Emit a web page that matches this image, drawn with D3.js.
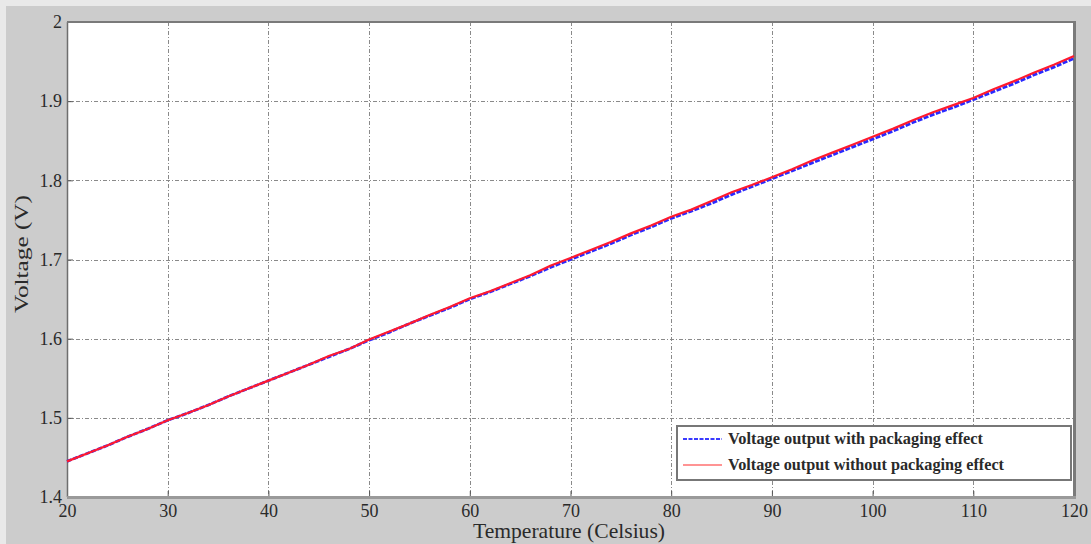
<!DOCTYPE html>
<html>
<head>
<meta charset="utf-8">
<script src="https://cdn.jsdelivr.net/npm/d3@7/dist/d3.min.js"></script>
<style>
  html, body { margin: 0; padding: 0; background: #e9e9e9; }
  svg { display: block; }
</style>
</head>
<body>
<svg id="chart" width="1091" height="544"></svg>
<script>
// Temperature sweep (Celsius)
const temperature = [20,22,24,26,28,30,32,34,36,38,40,42,44,46,48,50,52,54,56,58,60,
  62,64,66,68,70,72,74,76,78,80,82,84,86,88,90,92,94,96,98,100,
  102,104,106,108,110,112,114,116,118,120];

// Sensor output (V) with packaging effect
const voltageWithPackaging = [1.445,1.455,1.465,1.476,1.486,1.497,1.506,1.516,1.527,1.537,1.547,
  1.557,1.567,1.577,1.587,1.598,1.608,1.619,1.629,1.639,1.650,
  1.659,1.669,1.679,1.690,1.700,1.710,1.720,1.731,1.741,1.752,
  1.761,1.771,1.782,1.792,1.802,1.812,1.822,1.832,1.842,1.852,
  1.862,1.873,1.883,1.892,1.902,1.912,1.922,1.933,1.943,1.954];

// Sensor output (V) without packaging effect
const voltageWithoutPackaging = [1.445,1.455,1.465,1.476,1.486,1.497,1.506,1.516,1.527,1.537,1.547,
  1.557,1.567,1.578,1.587,1.599,1.609,1.619,1.630,1.640,1.651,
  1.660,1.670,1.680,1.692,1.702,1.712,1.722,1.733,1.743,1.754,
  1.763,1.774,1.785,1.794,1.804,1.814,1.825,1.835,1.845,1.855,
  1.865,1.876,1.886,1.895,1.904,1.915,1.925,1.936,1.946,1.957];

const xTicks = [20,30,40,50,60,70,80,90,100,110,120];
const yTicks = [1.4,1.5,1.6,1.7,1.8,1.9,2.0];
const yTickLabels = ["1.4","1.5","1.6","1.7","1.8","1.9","2"];

const seriesNames = ["Voltage output with packaging effect", "Voltage output without packaging effect"];

const svg = d3.select("#chart");
const W = 1091, H = 544;
const m = { left: 67, right: 1074, top: 22, bottom: 497 };
const serif = "'Liberation Serif', 'DejaVu Serif', serif";

// figure background
svg.append("rect").attr("x", 0).attr("y", 0).attr("width", W).attr("height", H).attr("fill", "#e9e9e9");
svg.append("rect").attr("x", 6).attr("y", 6).attr("width", W - 6).attr("height", H - 6).attr("fill", "#cccccc");

const x = d3.scaleLinear().domain([20, 120]).range([m.left, m.right]);
const y = d3.scaleLinear().domain([1.4, 2.0]).range([m.bottom, m.top]);

// plot area
svg.append("rect").attr("x", m.left).attr("y", m.top)
  .attr("width", m.right - m.left).attr("height", m.bottom - m.top).attr("fill", "#ffffff");

// grid
const grid = svg.append("g").attr("stroke", "#8a8a8a").attr("stroke-width", 1)
  .attr("stroke-dasharray", "4,2,1,2").attr("fill", "none");
grid.selectAll(".gx").data(xTicks.slice(1, -1)).join("line")
  .attr("x1", d => Math.round(x(d)) + 0.5).attr("x2", d => Math.round(x(d)) + 0.5)
  .attr("y1", m.top).attr("y2", m.bottom);
grid.selectAll(".gy").data(yTicks.slice(1, -1)).join("line")
  .attr("y1", d => Math.round(y(d)) + 0.5).attr("y2", d => Math.round(y(d)) + 0.5)
  .attr("x1", m.left).attr("x2", m.right);

// axes with inward ticks
const xAxis = d3.axisBottom(x).tickValues(xTicks).tickSize(-6).tickPadding(7).tickFormat(d3.format("d"));
const gx = svg.append("g").attr("transform", `translate(0,${m.bottom})`).call(xAxis);
gx.select(".domain").remove();
gx.selectAll(".tick line").attr("stroke", "#555");
gx.selectAll("text").attr("font-family", serif).attr("font-size", 18).attr("fill", "#2a2a2a");

const yAxis = d3.axisLeft(y).tickValues(yTicks).tickSize(-6).tickPadding(5)
  .tickFormat((d, i) => yTickLabels[i]);
const gy = svg.append("g").attr("transform", `translate(${m.left},0)`).call(yAxis);
gy.select(".domain").remove();
gy.selectAll(".tick line").attr("stroke", "#555");
gy.selectAll("text").attr("font-family", serif).attr("font-size", 18).attr("fill", "#2a2a2a");

// frame
svg.append("line").attr("x1", m.left + 0.5).attr("x2", m.left + 0.5).attr("y1", m.top).attr("y2", m.bottom)
  .attr("stroke", "#6e6e6e").attr("stroke-width", 1.5);
svg.append("line").attr("x1", m.left).attr("x2", m.right + 2).attr("y1", m.top).attr("y2", m.top)
  .attr("stroke", "#7a7a7a").attr("stroke-width", 2);
svg.append("line").attr("x1", m.right + 0.5).attr("x2", m.right + 0.5).attr("y1", m.top - 1).attr("y2", m.bottom + 2)
  .attr("stroke", "#7a7a7a").attr("stroke-width", 3);
svg.append("line").attr("x1", m.left).attr("x2", m.right + 2).attr("y1", m.bottom + 0.5).attr("y2", m.bottom + 0.5)
  .attr("stroke", "#9a9a9a").attr("stroke-width", 3);

// data lines
const line = d3.line().x((d, i) => x(temperature[i])).y(d => y(d));
svg.append("path").datum(voltageWithPackaging).attr("d", line)
  .attr("fill", "none").attr("stroke", "#2a2aff").attr("stroke-width", 2.8)
  .attr("stroke-dasharray", "5,1.5");
svg.append("path").datum(voltageWithoutPackaging).attr("d", line)
  .attr("fill", "none").attr("stroke", "#ff1a2e").attr("stroke-width", 2.2);

// legend
const lg = svg.append("g");
lg.append("rect").attr("x", 677).attr("y", 426).attr("width", 394).attr("height", 54)
  .attr("fill", "#ffffff").attr("stroke", "#777").attr("stroke-width", 2);
const legendRows = [
  { name: seriesNames[0], color: "#3a3aff", dash: "4,1.5", w: 2, yy: 439, len: 255 },
  { name: seriesNames[1], color: "#ff2a2a", dash: null, w: 1.2, yy: 465, len: 276 }
];
legendRows.forEach(r => {
  lg.append("line").attr("x1", 683).attr("x2", 722).attr("y1", r.yy).attr("y2", r.yy)
    .attr("stroke", r.color).attr("stroke-width", r.w).attr("stroke-dasharray", r.dash);
  lg.append("text").attr("x", 728).attr("y", r.yy + 5).text(r.name)
    .attr("font-family", serif).attr("font-size", 16).attr("font-weight", 600).attr("fill", "#2a2a2a")
    .attr("textLength", r.len).attr("lengthAdjust", "spacingAndGlyphs");
});

// axis titles
svg.append("text").attr("x", 473).attr("y", 538)
  .attr("font-family", serif).attr("font-size", 21).attr("fill", "#2a2a2a")
  .attr("textLength", 192).attr("lengthAdjust", "spacingAndGlyphs").text("Temperature (Celsius)");
svg.append("text").attr("transform", `translate(28,313) rotate(-90)`)
  .attr("font-family", serif).attr("font-size", 19).attr("fill", "#2a2a2a")
  .attr("textLength", 118).attr("lengthAdjust", "spacingAndGlyphs")
  .text("Voltage (V)");
</script>
</body>
</html>
